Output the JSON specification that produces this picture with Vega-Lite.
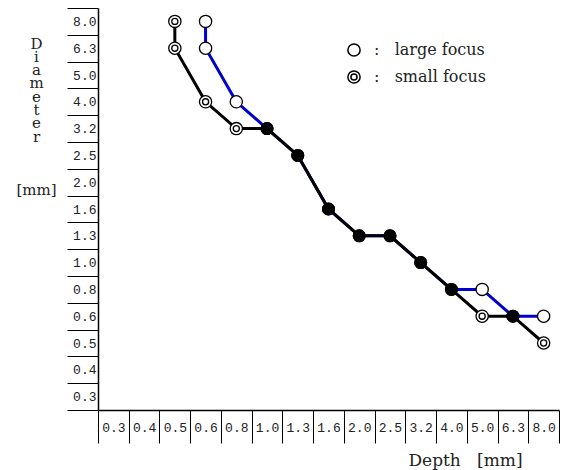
{
  "$schema": "https://vega.github.io/schema/vega-lite/v6.json",
  "width": 461,
  "height": 402,
  "autosize": {"type": "none"},
  "padding": {"left": 98, "top": 8, "right": 10, "bottom": 60},
  "background": "white",
  "config": {
    "view": {"stroke": null},
    "axis": {"grid": false, "domainColor": "black", "tickColor": "black", "labelColor": "#222", "titleColor": "#222", "titleFontWeight": "normal"}
  },
  "data": {
    "values": [
      {"series": "large focus", "order": 1, "depth": "0.6", "diameter": "8.0", "marker": "large focus"},
      {"series": "large focus", "order": 2, "depth": "0.6", "diameter": "6.3", "marker": "large focus"},
      {"series": "large focus", "order": 3, "depth": "0.8", "diameter": "4.0", "marker": "large focus"},
      {"series": "large focus", "order": 4, "depth": "1.0", "diameter": "3.2", "marker": "shared"},
      {"series": "large focus", "order": 5, "depth": "1.3", "diameter": "2.5", "marker": "shared"},
      {"series": "large focus", "order": 6, "depth": "1.6", "diameter": "1.6", "marker": "shared"},
      {"series": "large focus", "order": 7, "depth": "2.0", "diameter": "1.3", "marker": "shared"},
      {"series": "large focus", "order": 8, "depth": "2.5", "diameter": "1.3", "marker": "shared"},
      {"series": "large focus", "order": 9, "depth": "3.2", "diameter": "1.0", "marker": "shared"},
      {"series": "large focus", "order": 10, "depth": "4.0", "diameter": "0.8", "marker": "shared"},
      {"series": "large focus", "order": 11, "depth": "5.0", "diameter": "0.8", "marker": "large focus"},
      {"series": "large focus", "order": 12, "depth": "6.3", "diameter": "0.6", "marker": "shared"},
      {"series": "large focus", "order": 13, "depth": "8.0", "diameter": "0.6", "marker": "large focus"},
      {"series": "small focus", "order": 1, "depth": "0.5", "diameter": "8.0", "marker": "small focus"},
      {"series": "small focus", "order": 2, "depth": "0.5", "diameter": "6.3", "marker": "small focus"},
      {"series": "small focus", "order": 3, "depth": "0.6", "diameter": "4.0", "marker": "small focus"},
      {"series": "small focus", "order": 4, "depth": "0.8", "diameter": "3.2", "marker": "small focus"},
      {"series": "small focus", "order": 5, "depth": "1.0", "diameter": "3.2", "marker": "shared"},
      {"series": "small focus", "order": 6, "depth": "1.3", "diameter": "2.5", "marker": "shared"},
      {"series": "small focus", "order": 7, "depth": "1.6", "diameter": "1.6", "marker": "shared"},
      {"series": "small focus", "order": 8, "depth": "2.0", "diameter": "1.3", "marker": "shared"},
      {"series": "small focus", "order": 9, "depth": "2.5", "diameter": "1.3", "marker": "shared"},
      {"series": "small focus", "order": 10, "depth": "3.2", "diameter": "1.0", "marker": "shared"},
      {"series": "small focus", "order": 11, "depth": "4.0", "diameter": "0.8", "marker": "shared"},
      {"series": "small focus", "order": 12, "depth": "5.0", "diameter": "0.6", "marker": "small focus"},
      {"series": "small focus", "order": 13, "depth": "6.3", "diameter": "0.6", "marker": "shared"},
      {"series": "small focus", "order": 14, "depth": "8.0", "diameter": "0.5", "marker": "small focus"}
    ]
  },
  "encoding": {
    "x": {
      "field": "depth", "type": "nominal",
      "scale": {"domain": ["0.3","0.4","0.5","0.6","0.8","1.0","1.3","1.6","2.0","2.5","3.2","4.0","5.0","6.3","8.0"], "paddingInner": 0, "paddingOuter": 0},
      "axis": {
        "title": "Depth\u00a0\u00a0\u00a0[mm]", "labelAngle": 0, "tickBand": "extent", "tickSize": 33, "tickWidth": 1, "domainWidth": 1.5,
        "labelPadding": -16, "labelBaseline": "middle", "labelFont": "Liberation Mono", "labelFontSize": 13,
        "titleFont": "DejaVu Serif", "titleFontSize": 17, "titleX": 367, "titleY": 50, "titleAlign": "center", "titleBaseline": "middle"
      }
    },
    "y": {
      "field": "diameter", "type": "nominal",
      "scale": {"domain": ["8.0","6.3","5.0","4.0","3.2","2.5","2.0","1.6","1.3","1.0","0.8","0.6","0.5","0.4","0.3"], "paddingInner": 0, "paddingOuter": 0},
      "axis": {
        "title": ["D","i","a","m","e","t","e","r","\u2800","\u2800","\u2800","[mm]"], "titleAngle": 0, "titleAlign": "center", "titleBaseline": "top",
        "titleX": -62, "titleY": 28, "titleLineHeight": 13.3, "titleFont": "DejaVu Serif", "titleFontSize": 15,
        "tickBand": "extent", "tickSize": 31, "tickWidth": 1, "domainWidth": 1.5,
        "labelPadding": -29, "labelFont": "Liberation Mono", "labelFontSize": 13
      }
    }
  },
  "layer": [
    {
      "transform": [{"filter": "datum.series === 'large focus'"}],
      "mark": {"type": "line", "color": "#0000cc", "strokeWidth": 3},
      "encoding": {"order": {"field": "order", "type": "quantitative"}}
    },
    {
      "transform": [{"filter": "datum.series === 'small focus'"}],
      "mark": {"type": "line", "color": "black", "strokeWidth": 3},
      "encoding": {"order": {"field": "order", "type": "quantitative"}}
    },
    {
      "transform": [{"filter": "datum.marker !== 'shared'"}],
      "mark": {"type": "point", "filled": true, "fill": "white", "stroke": "black", "strokeWidth": 1.3, "size": 150, "opacity": 1},
      "encoding": {
        "shape": {
          "field": "marker", "type": "nominal",
          "scale": {"domain": ["large focus", "small focus"], "range": ["M-1,0A1,1,0,1,1,1,0A1,1,0,1,1,-1,0Z", "M-1,0A1,1,0,1,1,1,0A1,1,0,1,1,-1,0ZM-0.5,0A0.5,0.5,0,1,1,0.5,0A0.5,0.5,0,1,1,-0.5,0Z"]},
          "legend": {
            "title": null, "orient": "none", "legendX": 248, "legendY": 34, "rowPadding": 7,
            "symbolSize": 150,
            "encode": {"symbols": {"update": {"fill": {"value": "white"}, "stroke": {"value": "black"}, "strokeWidth": {"value": 1.3}, "opacity": {"value": 1}}}},
            "labelExpr": "':\u00a0\u00a0\u00a0' + datum.label", "labelFont": "DejaVu Serif", "labelFontSize": 16, "labelColor": "#222", "labelOffset": 12, "labelLimit": 300
          }
        }
      }
    },
    {
      "transform": [{"filter": "datum.marker === 'shared'"}],
      "mark": {"type": "circle", "color": "black", "size": 170, "opacity": 1}
    }
  ]
}
